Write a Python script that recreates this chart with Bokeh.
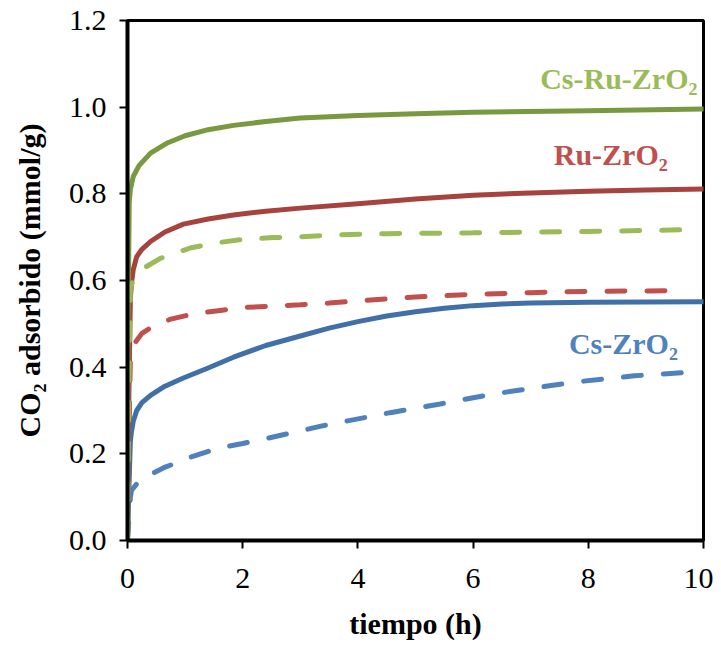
from bokeh.plotting import figure
from bokeh.models import FixedTicker, NumeralTickFormatter, Range1d
from bokeh.core.properties import value
from bokeh.embed import file_html
from bokeh.resources import INLINE

# --- data ---
cs_ru_t = [0, 0.01, 0.03, 0.05, 0.1, 0.2, 0.4, 0.7, 1.0, 1.4, 1.84, 2.4, 3.0, 4.0, 5.0, 6.0, 8.0, 10.0]
cs_ru_v = [0, 0.5, 0.78, 0.81, 0.84, 0.865, 0.894, 0.918, 0.934, 0.948, 0.958, 0.967, 0.975, 0.981, 0.985, 0.988, 0.992, 0.996]

cs_ru_d_t = [0, 0.02, 0.05, 0.1, 0.16, 0.3, 0.57, 1.09, 1.55, 2.0, 2.53, 3.0, 3.58, 4.5, 6.0, 8.0, 9.65]
cs_ru_d_v = [0, 0.3, 0.585, 0.6, 0.611, 0.63, 0.651, 0.675, 0.687, 0.695, 0.699, 0.701, 0.705, 0.708, 0.71, 0.713, 0.717]

ru_t = [0, 0.02, 0.05, 0.07, 0.1, 0.16, 0.25, 0.4, 0.65, 0.97, 1.4, 1.84, 2.4, 3.0, 4.0, 5.0, 6.0, 7.0, 8.0, 9.0, 10.0]
ru_v = [0, 0.3, 0.56, 0.595, 0.625, 0.655, 0.672, 0.69, 0.712, 0.73, 0.742, 0.751, 0.76, 0.767, 0.777, 0.788, 0.797, 0.802, 0.806, 0.809, 0.811]

ru_d_t = [0, 0.02, 0.05, 0.07, 0.15, 0.25, 0.4, 0.75, 1.15, 1.61, 2.08, 2.53, 3.0, 3.5, 4.0, 5.0, 6.0, 7.0, 8.0, 9.0, 9.7]
ru_d_v = [0, 0.2, 0.42, 0.435, 0.46, 0.478, 0.491, 0.511, 0.523, 0.531, 0.538, 0.541, 0.544, 0.548, 0.553, 0.562, 0.568, 0.572, 0.575, 0.576, 0.577]

cs_t = [0, 0.02, 0.05, 0.07, 0.1, 0.16, 0.25, 0.4, 0.65, 0.97, 1.4, 1.84, 2.4, 3.0, 3.5, 4.0, 4.5, 5.0, 5.5, 6.0, 6.5, 7.0, 8.0, 10.0]
cs_v = [0, 0.1, 0.23, 0.252, 0.275, 0.3, 0.318, 0.335, 0.356, 0.375, 0.398, 0.423, 0.45, 0.472, 0.49, 0.505, 0.518, 0.528, 0.536, 0.542, 0.546, 0.548, 0.55, 0.551]

cs_d_t = [0, 0.02, 0.05, 0.07, 0.22, 0.63, 1.09, 1.55, 2.0, 2.43, 2.84, 3.36, 3.82, 4.56, 5.43, 6.3, 7.16, 7.86, 8.8, 9.72]
cs_d_v = [0, 0.04, 0.1, 0.116, 0.14, 0.168, 0.192, 0.212, 0.224, 0.236, 0.248, 0.264, 0.276, 0.295, 0.315, 0.337, 0.354, 0.367, 0.38, 0.388]

x_ticks = [0, 2, 4, 6, 8, 10]
y_ticks = [0.0, 0.2, 0.4, 0.6, 0.8, 1.0, 1.2]

labels = ["Cs-Ru-ZrO₂", "Ru-ZrO₂", "Cs-ZrO₂"]
label_t = [8.53, 8.39, 8.61]
label_v = [1.066, 0.891, 0.455]
label_colors = ["#9BBB59", "#C0504D", "#4F81BD"]

SERIF = "Liberation Serif"

p = figure(width=713, height=654, output_backend="svg", toolbar_location=None,
           x_range=Range1d(0, 10), y_range=Range1d(0, 1.2),
           min_border_left=127, min_border_right=10, min_border_top=20, min_border_bottom=114)

p.xgrid.visible = False
p.ygrid.visible = False
p.outline_line_color = "black"
p.outline_line_width = 3
p.outline_line_alpha = 1.0
p.background_fill_color = "white"
p.border_fill_color = "white"

for ax in (p.xaxis[0], p.yaxis[0]):
    ax.axis_line_color = "black"
    ax.axis_line_width = 4
    ax.major_tick_line_color = "black"
    ax.major_tick_line_width = 2
    ax.major_tick_out = 8
    ax.major_tick_in = 0
    ax.minor_tick_line_color = None
    ax.major_label_text_font = SERIF
    ax.major_label_text_font_size = "30px"
    ax.major_label_text_color = "black"
    ax.axis_label_text_font = SERIF
    ax.axis_label_text_font_size = "30px"
    ax.axis_label_text_font_style = "bold"
    ax.axis_label_text_color = "black"

p.xaxis.ticker = FixedTicker(ticks=x_ticks)
p.yaxis.ticker = FixedTicker(ticks=y_ticks)
p.yaxis.formatter = NumeralTickFormatter(format="0.0")
p.xaxis.axis_label = "tiempo (h)"
p.yaxis.axis_label = "CO₂ adsorbido (mmol/g)"
p.xaxis.major_label_standoff = 20
p.yaxis.major_label_standoff = 13
p.xaxis.axis_label_standoff = 16
p.yaxis.axis_label_standoff = 20

W = 5
DASH = "18 22"
p.line(cs_d_t, cs_d_v, line_color="#4F81BD", line_width=W, line_dash=DASH, line_cap="round")
p.line(cs_t, cs_v, line_color="#4170A8", line_width=W, line_cap="round", line_join="round")
p.line(ru_d_t, ru_d_v, line_color="#C0504D", line_width=W, line_dash=DASH, line_cap="round")
p.line(ru_t, ru_v, line_color="#A6433F", line_width=W, line_cap="round", line_join="round")
p.line(cs_ru_t, cs_ru_v, line_color="#78993F", line_width=W, line_cap="round", line_join="round")
p.line(cs_ru_d_t, cs_ru_d_v, line_color="#9BBB59", line_width=W, line_dash=DASH, line_cap="round")

p.text(x=label_t, y=label_v, text=labels, text_color=label_colors,
       text_font=value(SERIF), text_font_size="30px", text_font_style="bold",
       text_align="center", text_baseline="middle")

open("out.html", "w").write(file_html(p, INLINE))
